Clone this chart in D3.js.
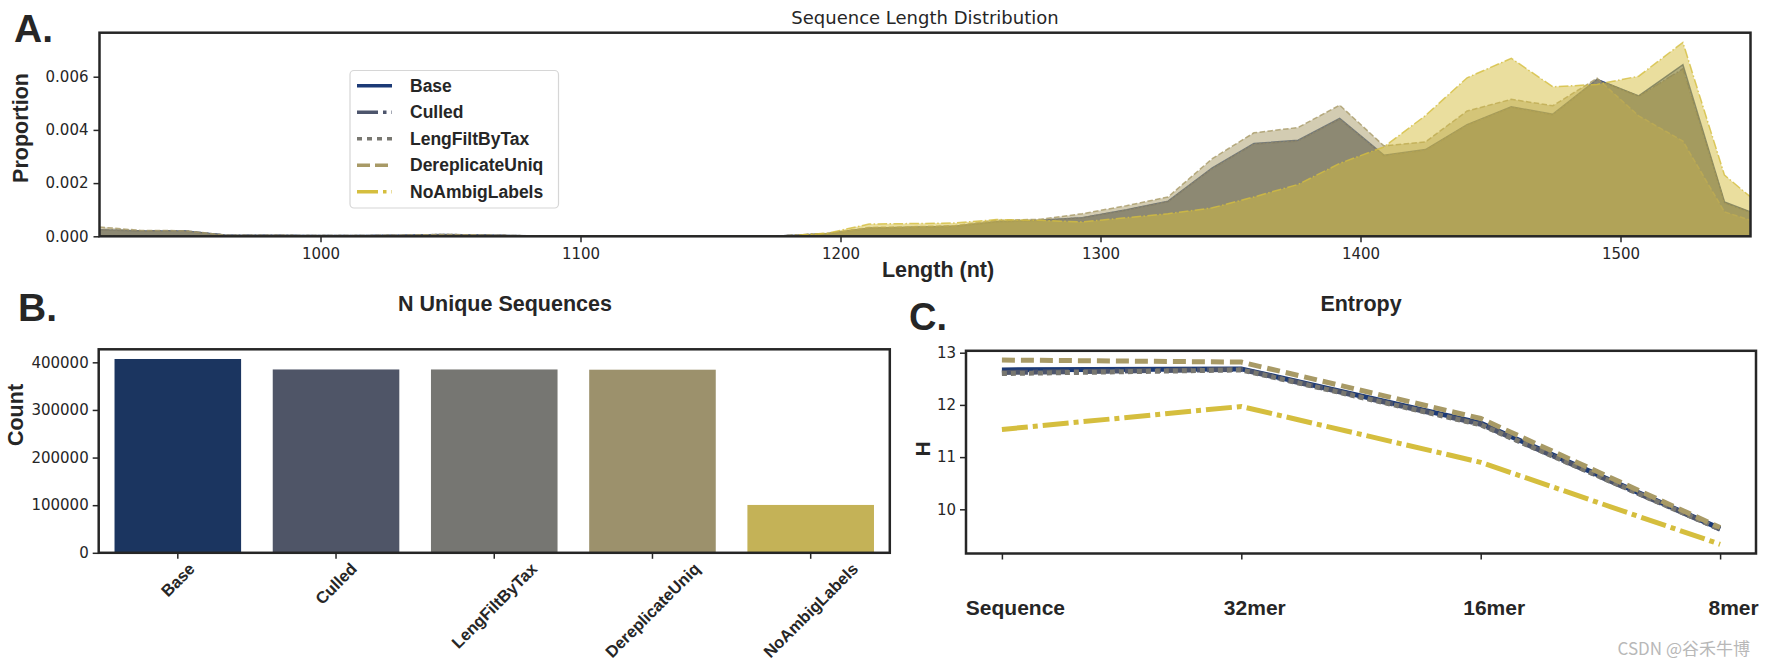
<!DOCTYPE html>
<html><head><meta charset="utf-8">
<script src="https://cdn.jsdelivr.net/npm/d3@7"></script>
<style>
body{margin:0;background:#fff;}
svg{display:block;}
</style></head><body>
<svg id="chart" width="1765" height="668"></svg>
<script>
// ---------------- DATA ----------------
const seriesNames = ["Base", "Culled", "LengFiltByTax", "DereplicateUniq", "NoAmbigLabels"];

// Panel A: sequence length distribution
const lengths = [915, 931, 948, 964, 981, 997, 1014, 1030, 1047, 1063, 1080, 1096, 1112, 1129, 1145, 1162, 1178, 1195, 1211, 1228,
                 1244, 1260, 1277, 1293, 1310, 1326, 1343, 1359, 1376, 1392, 1409, 1425, 1441, 1458, 1474, 1491, 1507, 1524, 1540, 1550];
const propBase = [0.00025, 0.00020, 0.00020, 0.00004, 0.00004, 0.00003, 0.00003, 0.00004, 0.00007, 0.00005, 0.00002, 0.00001, 0.00001, 0.00001, 0.00001, 0.00001, 0.00002, 0.00010, 0.00030, 0.00034,
                  0.00038, 0.00055, 0.00060, 0.00070, 0.00100, 0.00132, 0.00257, 0.00349, 0.00361, 0.00443, 0.00305, 0.00326, 0.00420, 0.00487, 0.00459, 0.00590, 0.00528, 0.00645, 0.00129, 0.00092];
const propCulled = [0.00024, 0.00020, 0.00019, 0.00004, 0.00004, 0.00003, 0.00003, 0.00004, 0.00006, 0.00005, 0.00002, 0.00001, 0.00001, 0.00001, 0.00001, 0.00001, 0.00002, 0.00010, 0.00030, 0.00033,
                    0.00037, 0.00054, 0.00059, 0.00069, 0.00098, 0.00130, 0.00254, 0.00346, 0.00358, 0.00440, 0.00302, 0.00323, 0.00417, 0.00484, 0.00456, 0.00588, 0.00526, 0.00630, 0.00126, 0.00090];
const propLeng = [0.00026, 0.00021, 0.00020, 0.00004, 0.00004, 0.00003, 0.00003, 0.00004, 0.00007, 0.00005, 0.00002, 0.00001, 0.00001, 0.00001, 0.00001, 0.00001, 0.00002, 0.00010, 0.00031, 0.00034,
                  0.00038, 0.00055, 0.00060, 0.00070, 0.00099, 0.00131, 0.00255, 0.00347, 0.00359, 0.00441, 0.00303, 0.00324, 0.00418, 0.00485, 0.00457, 0.00589, 0.00527, 0.00624, 0.00124, 0.00088];
const propDerep = [0.00035, 0.00022, 0.00021, 0.00004, 0.00004, 0.00003, 0.00003, 0.00004, 0.00007, 0.00005, 0.00002, 0.00001, 0.00001, 0.00001, 0.00001, 0.00001, 0.00002, 0.00011, 0.00033, 0.00036,
                   0.00040, 0.00060, 0.00064, 0.00085, 0.00115, 0.00148, 0.00292, 0.00389, 0.00409, 0.00493, 0.00340, 0.00355, 0.00471, 0.00515, 0.00491, 0.00594, 0.00453, 0.00358, 0.00092, 0.00060];
const propNoAmbig = [0.00002, 0.00001, 0.00001, 0.00000, 0.00000, 0.00000, 0.00000, 0.00000, 0.00001, 0.00000, 0.00000, 0.00000, 0.00000, 0.00000, 0.00000, 0.00000, 0.00001, 0.00012, 0.00046, 0.00048,
                     0.00050, 0.00063, 0.00060, 0.00054, 0.00070, 0.00085, 0.00107, 0.00148, 0.00195, 0.00274, 0.00336, 0.00454, 0.00596, 0.00669, 0.00562, 0.00571, 0.00602, 0.00729, 0.00230, 0.00148];
const xTicksA = [1000, 1100, 1200, 1300, 1400, 1500];
const yTicksA = [0, 0.002, 0.004, 0.006];

// Panel B: N unique sequences
const uniqueCounts = [407000, 385000, 385000, 384500, 100500];
const yTicksB = [0, 100000, 200000, 300000, 400000];

// Panel C: entropy
const kmerLabels = ["Sequence", "32mer", "16mer", "8mer"];
const entBase = [12.67, 12.69, 11.65, 9.63];
const entCulled = [12.62, 12.68, 11.63, 9.62];
const entLeng = [12.60, 12.67, 11.62, 9.62];
const entDerep = [12.86, 12.82, 11.74, 9.65];
const entNoAmbig = [11.53, 11.97, 10.90, 9.33];
const yTicksC = [10, 11, 12, 13];

// ---------------- STYLE ----------------
const lineColors = ["#1c3a76", "#4d556c", "#787770", "#a89a66", "#d5be3e"];
const barColors = ["#1b3560", "#4f5567", "#767672", "#9c916c", "#c4b257"];
const dashA = [null, "9.6,2.4,1.5,2.4", "1.5,2.5", "5.5,2.4", "9.6,2.4,1.5,2.4"];
const dashC = [null, "26,5,5,5", "5,4", "13,6", "26,5,5,5"];
const dashLeg = [null, "21,5,3.5,5", "5,5", "13,5", "21,5,3.5,5"];
const boldFont = "'Liberation Sans', Arial, Helvetica, sans-serif";
const tickFont = "'DejaVu Sans', Verdana, sans-serif";
const ink = "#262626";

const svg = d3.select("#chart");

function frame(box) {
  svg.append("rect").attr("x", box.left).attr("y", box.top)
    .attr("width", box.right - box.left).attr("height", box.bottom - box.top)
    .attr("fill", "none").attr("stroke", ink).attr("stroke-width", 2.5);
}
function styleAxis(sel, size, family, weight) {
  sel.select(".domain").remove();
  sel.selectAll(".tick line").attr("stroke", ink).attr("stroke-width", 1.5);
  sel.selectAll(".tick text").attr("fill", ink)
    .style("font-family", family).style("font-size", size + "px").style("font-weight", weight || "normal");
}
function label(text, x, y, opts) {
  opts = opts || {};
  const t = svg.append("text").text(text)
    .attr("x", x).attr("y", y)
    .attr("fill", opts.fill || ink)
    .attr("text-anchor", opts.anchor || "middle")
    .style("font-family", opts.family || boldFont)
    .style("font-size", (opts.size || 20) + "px")
    .style("font-weight", opts.weight || "bold");
  if (opts.rotate) t.attr("transform", `rotate(${opts.rotate},${x},${y})`);
  return t;
}

// ---------------- PANEL A ----------------
const A = {left: 99.5, right: 1750.5, top: 32.7, bottom: 236.3};
const propSeries = [propBase, propCulled, propLeng, propDerep, propNoAmbig];
const maxProp = d3.max(propSeries.flat());
const xA = d3.scaleLinear().domain(d3.extent(lengths)).range([A.left, A.right]);
const yA = d3.scaleLinear().domain([0, maxProp * 1.05]).range([A.bottom, A.top]);

svg.append("clipPath").attr("id", "clipA").append("rect")
  .attr("x", A.left).attr("y", A.top).attr("width", A.right - A.left).attr("height", A.bottom - A.top);
const gA = svg.append("g").attr("clip-path", "url(#clipA)");
const areaA = d3.area().x(d => xA(d[0])).y0(yA(0)).y1(d => yA(d[1]));
const lineA = d3.line().x(d => xA(d[0])).y(d => yA(d[1]));
propSeries.forEach((vals, i) => {
  const pts = lengths.map((l, j) => [l, vals[j]]);
  gA.append("path").datum(pts).attr("d", areaA)
    .attr("fill", lineColors[i]).attr("fill-opacity", 0.5);
  gA.append("path").datum(pts).attr("d", lineA)
    .attr("fill", "none").attr("stroke", lineColors[i]).attr("stroke-width", 1.5)
    .attr("stroke-opacity", 0.8)
    .attr("stroke-dasharray", dashA[i]);
});
frame(A);
styleAxis(svg.append("g").attr("transform", `translate(0,${A.bottom})`)
  .call(d3.axisBottom(xA).tickValues(xTicksA).tickSize(6).tickPadding(6).tickFormat(d3.format("d"))), 15, tickFont);
styleAxis(svg.append("g").attr("transform", `translate(${A.left},0)`)
  .call(d3.axisLeft(yA).tickValues(yTicksA).tickSize(6).tickPadding(5).tickFormat(d3.format(".3f"))), 15, tickFont);

label("Sequence Length Distribution", 925, 24, {family: tickFont, weight: "normal", size: 18});
label("Length (nt)", 938, 277, {size: 21.5});
label("Proportion", 28, 128, {size: 21.5, rotate: -90});
label("A.", 14, 41.7, {size: 39, anchor: "start"});

// legend
const leg = svg.append("g");
leg.append("rect").attr("x", 350).attr("y", 70.5).attr("width", 208.5).attr("height", 137.5)
  .attr("rx", 4).attr("fill", "#fff").attr("fill-opacity", 0.85)
  .attr("stroke", "#d6d6d6").attr("stroke-width", 1.2);
seriesNames.forEach((name, i) => {
  const y = 85.7 + i * 26.5;
  leg.append("line").attr("x1", 357).attr("x2", 392).attr("y1", y).attr("y2", y)
    .attr("stroke", lineColors[i]).attr("stroke-width", 3.5).attr("stroke-dasharray", dashLeg[i]);
  leg.append("text").text(name).attr("x", 410).attr("y", y).attr("dy", "0.35em")
    .attr("fill", ink).style("font-family", boldFont).style("font-size", "17.5px").style("font-weight", "bold");
});

// ---------------- PANEL B ----------------
const B = {left: 98.7, right: 889.8, top: 349.3, bottom: 552.8};
const xB = d3.scaleBand().domain(seriesNames).range([B.left, B.right]).paddingInner(0.2).paddingOuter(0.1);
const yB = d3.scaleLinear().domain([0, d3.max(uniqueCounts) * 1.05]).range([B.bottom, B.top]);
svg.append("g").selectAll("rect").data(seriesNames).join("rect")
  .attr("x", d => xB(d)).attr("width", xB.bandwidth())
  .attr("y", (d, i) => yB(uniqueCounts[i])).attr("height", (d, i) => yB(0) - yB(uniqueCounts[i]))
  .attr("fill", (d, i) => barColors[i]);
frame(B);
styleAxis(svg.append("g").attr("transform", `translate(0,${B.bottom})`)
  .call(d3.axisBottom(xB).tickSize(6).tickFormat("")), 15, tickFont);
styleAxis(svg.append("g").attr("transform", `translate(${B.left},0)`)
  .call(d3.axisLeft(yB).tickValues(yTicksB).tickSize(6).tickPadding(4).tickFormat(d3.format("d"))), 15, tickFont);
// rotated category labels (centered under tick, top at y0)
seriesNames.forEach(name => {
  const cx = xB(name) + xB.bandwidth() / 2;
  const fs = 16.5;
  const t = svg.append("text").text(name).attr("text-anchor", "end").attr("dy", "0.35em")
    .attr("fill", ink).style("font-family", boldFont).style("font-size", fs + "px").style("font-weight", "bold");
  const L = t.node().getComputedTextLength();
  const h = fs * 1.0;
  const tx = cx + 0.354 * L, ty = 560 + 0.354 * h;
  t.attr("transform", `translate(${tx},${ty}) rotate(-45)`);
});
label("N Unique Sequences", 505, 310.7, {size: 21.5});
label("Count", 23, 415, {size: 21.5, rotate: -90});
label("B.", 18, 320.7, {size: 39, anchor: "start"});

// ---------------- PANEL C ----------------
const C = {left: 966, right: 1756, top: 350.8, bottom: 553.5};
const entSeries = [entBase, entCulled, entLeng, entDerep, entNoAmbig];
const entMin = d3.min(entSeries.flat()), entMax = d3.max(entSeries.flat());
const entPad = (entMax - entMin) * 0.05;
const xC = d3.scalePoint().domain(kmerLabels).range([C.left, C.right]).padding(0.15);
const yC = d3.scaleLinear().domain([entMin - entPad, entMax + entPad]).range([C.bottom, C.top]);
const lineC = d3.line().x(d => xC(d[0])).y(d => yC(d[1]));
entSeries.forEach((vals, i) => {
  svg.append("path").datum(kmerLabels.map((k, j) => [k, vals[j]])).attr("d", lineC)
    .attr("fill", "none").attr("stroke", lineColors[i]).attr("stroke-width", 5)
    .attr("stroke-dasharray", dashC[i]);
});
frame(C);
const axC = svg.append("g").attr("transform", `translate(0,${C.bottom})`)
  .call(d3.axisBottom(xC).tickSize(6).tickPadding(41));
styleAxis(axC, 21, boldFont, "bold");
axC.selectAll(".tick text").attr("x", 13);
styleAxis(svg.append("g").attr("transform", `translate(${C.left},0)`)
  .call(d3.axisLeft(yC).tickValues(yTicksC).tickSize(6).tickPadding(4).tickFormat(d3.format("d"))), 15, tickFont);
label("Entropy", 1361, 311, {size: 21.5});
label("H", 930, 449, {size: 21, rotate: -90});
label("C.", 909, 330, {size: 38, anchor: "start"});

// watermark
label("CSDN @谷禾牛博", 1750, 655, {family: "'Noto Sans CJK SC', 'DejaVu Sans', sans-serif", weight: "normal", size: 17, anchor: "end", fill: "#b8b8b8"});
</script>
</body></html>
